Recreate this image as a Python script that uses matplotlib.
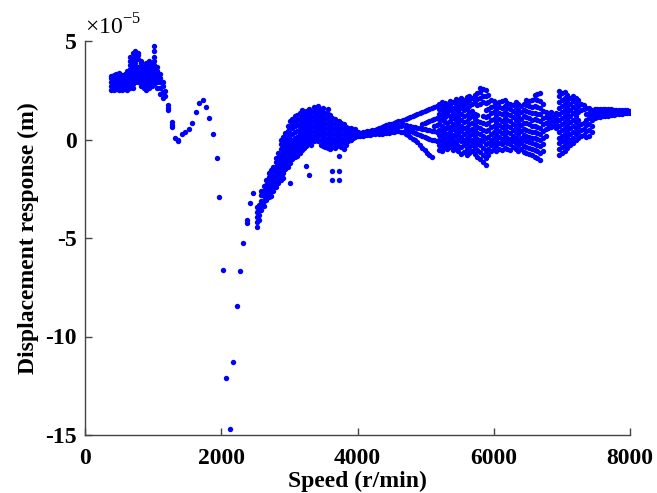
import matplotlib
matplotlib.use("Agg")
import matplotlib.pyplot as plt

# Speed (r/min) and the displacement responses at each speed (units of 1e-5 m)
speeds = [
    380, 420, 460, 500, 540, 580, 620, 660, 700, 740, 780, 820, 860, 900, 940, 980,
    1020, 1060, 1100, 1140, 1180, 1225, 1278, 1320, 1370, 1420, 1470, 1527, 1575,
    1625, 1673, 1728, 1771, 1825, 1875, 1933, 1972, 2026, 2075, 2124, 2172, 2226,
    2275, 2324, 2373, 2422, 2471,
    2520, 2555, 2590, 2625, 2660, 2695, 2730, 2765, 2800, 2835, 2870, 2905, 2940,
    2975, 3010, 3045, 3080, 3115, 3150, 3185, 3220, 3250, 3285, 3320, 3355, 3390,
    3425, 3460, 3495, 3530, 3565, 3600, 3630, 3665, 3700, 3725, 3760, 3795, 3830,
    3865, 3900, 3935, 3970, 4005,
    4040, 4075, 4110, 4145, 4180, 4215, 4250, 4285, 4320, 4355, 4390, 4425, 4460,
    4495, 4530, 4565, 4600, 4635, 4670, 4705, 4740, 4775, 4810, 4845, 4880, 4915,
    4950, 4985, 5020, 5055, 5090, 5125, 5160,
    5200, 5240, 5280, 5320, 5360, 5400, 5440, 5480, 5520, 5560, 5600, 5640, 5680,
    5720, 5760, 5800, 5840, 5880, 5920, 5960, 6000, 6040, 6080, 6120, 6160, 6200,
    6240, 6280, 6320, 6360, 6400, 6440, 6480, 6520, 6560, 6600, 6640, 6680, 6720,
    6760, 6800, 6840, 6880, 6920,
    6960, 7000, 7040, 7080, 7120, 7160, 7200, 7240, 7280, 7320, 7360, 7400, 7440,
    7480, 7520, 7560, 7600, 7640, 7680, 7720, 7760, 7800, 7840, 7880, 7920, 7960, 8000,
]

responses = [
    [2.5, 2.7, 2.9, 3.1, 3.2],
    [2.5, 2.65, 2.85, 3.05, 3.25],
    [2.55, 2.75, 2.95, 3.15, 3.3],
    [2.5, 2.7, 2.9, 3.1, 3.3, 3.4],
    [2.5, 2.7, 2.85, 3.05, 3.25],
    [2.55, 2.75, 2.95, 3.15, 3.35],
    [2.5, 2.7, 2.9, 3.1, 3.3, 3.5],
    [2.6, 2.8, 3.0, 3.2, 3.4, 3.6, 3.8, 4.0, 4.2],
    [2.6, 2.8, 3.0, 3.25, 3.45, 3.7, 3.9, 4.1, 4.4],
    [2.9, 3.1, 3.3, 3.5, 3.7, 3.9, 4.1, 4.3, 4.5],
    [2.9, 3.1, 3.3, 3.5, 3.7, 4.1, 4.3, 4.4],
    [2.7, 2.9, 3.1, 3.3, 3.5, 3.7, 3.9, 4.0],
    [2.6, 2.8, 3.0, 3.2, 3.4, 3.6, 3.8],
    [2.5, 2.7, 2.9, 3.1, 3.3, 3.5, 3.7, 3.9],
    [2.6, 2.8, 3.0, 3.2, 3.4, 3.6, 3.8, 4.0],
    [2.7, 2.9, 3.1, 3.3, 3.5, 3.7, 3.9],
    [2.8, 3.0, 3.2, 3.4, 3.6, 3.8, 4.0, 4.2, 4.5, 4.75],
    [2.6, 2.9, 3.1, 3.3, 3.5, 3.7],
    [2.3, 2.6, 2.9, 3.1, 3.3],
    [2.1, 2.4, 2.7, 2.9],
    [2.2, 2.45],
    [1.75, 1.6, 1.5],
    [0.9, 0.75, 0.62],
    [0.06],
    [-0.06, 0.0],
    [0.28],
    [0.37],
    [0.53],
    [0.82],
    [1.38],
    [1.87],
    [2.0],
    [1.63],
    [1.1],
    [0.28],
    [-0.92],
    [-2.9],
    [-6.6],
    [-12.1],
    [-14.7],
    [-11.3],
    [-8.45],
    [-6.7],
    [-5.27],
    [-4.09, -4.25],
    [-3.24],
    [-2.73],
    # rising branch
    [-4.45, -4.2, -3.95, -3.7, -3.45],
    [-4.1, -3.85, -3.6, -3.3],
    [-3.6, -3.35, -3.1, -2.8, -2.6],
    [-3.4, -3.1, -2.85, -2.6, -2.35],
    [-3.05, -2.8, -2.55, -2.3, -2.05],
    [-2.9, -2.65, -2.4, -2.15, -1.9, -1.7],
    [-2.85, -2.6, -2.35, -2.1, -1.85, -1.55],
    [-2.6, -2.35, -2.1, -1.85, -1.6, -1.4],
    [-2.4, -2.15, -1.9, -1.65, -1.4, -1.15, -0.95],
    [-2.2, -1.95, -1.7, -1.45, -1.2, -0.95, -0.7],
    [-2.05, -1.8, -1.55, -1.3, -1.05, -0.8, -0.5, -0.25, 0.0],
    [-1.95, -1.7, -1.45, -1.2, -0.95, -0.65, -0.4, -0.15, 0.15],
    [-1.5, -1.25, -1.0, -0.75, -0.5, -0.25, 0.05, 0.35],
    [-1.4, -1.1, -0.85, -0.6, -0.35, -0.1, 0.15, 0.45, 0.7],
    [-2.2, -1.2, -0.95, -0.7, -0.45, -0.2, 0.05, 0.35, 0.65, 0.95],
    [-1.0, -0.75, -0.5, -0.25, 0.0, 0.3, 0.6, 0.85, 1.05],
    [-0.9, -0.65, -0.4, -0.15, 0.1, 0.4, 0.7, 0.95, 1.2],
    [-0.85, -0.6, -0.35, -0.1, 0.15, 0.45, 0.75, 1.0, 1.25],
    [-0.7, -0.45, -0.2, 0.05, 0.3, 0.55, 0.8, 1.05, 1.35],
    [-0.55, -0.3, -0.05, 0.2, 0.45, 0.7, 0.95, 1.2, 1.5],
    [-0.45, -0.2, 0.05, 0.3, 0.55, 0.8, 1.05, 1.3],
    [-1.35, -0.35, -0.1, 0.15, 0.4, 0.65, 0.9, 1.15, 1.45],
    [-1.8, -0.2, 0.05, 0.3, 0.55, 0.8, 1.05, 1.3, 1.55],
    [-0.3, -0.05, 0.2, 0.45, 0.7, 0.95, 1.2, 1.45],
    [-0.1, 0.15, 0.4, 0.65, 0.9, 1.15, 1.4, 1.65],
    [0.0, 0.25, 0.5, 0.75, 1.0, 1.25, 1.5],
    [-0.1, 0.2, 0.45, 0.7, 0.95, 1.2, 1.45, 1.7],
    [-0.3, 0.0, 0.3, 0.55, 0.8, 1.05, 1.3, 1.55],
    [-0.35, -0.1, 0.15, 0.4, 0.65, 0.9, 1.15, 1.4, 1.6],
    [-0.4, -0.15, 0.1, 0.35, 0.6, 0.85, 1.1, 1.35],
    [-0.45, -0.2, 0.05, 0.3, 0.55, 0.8, 1.05, 1.3, 1.55],
    [-0.5, -0.25, 0.0, 0.25, 0.5, 0.75, 1.0, 1.25],
    [-2.05, -1.6, -0.4, -0.15, 0.1, 0.35, 0.6, 0.85, 1.1],
    [-0.45, -0.2, 0.05, 0.3, 0.55, 0.8, 1.05],
    [-0.35, -0.1, 0.15, 0.4, 0.65, 0.9],
    [-2.05, -1.6, -0.85, -0.3, -0.05, 0.2, 0.45, 0.7, 0.95],
    [-0.4, -0.15, 0.1, 0.35, 0.6, 0.85],
    [-0.5, -0.2, 0.05, 0.3, 0.55, 0.8],
    [-0.3, -0.05, 0.2, 0.45, 0.65],
    [-0.1, 0.15, 0.4, 0.6],
    [0.0, 0.2, 0.4, 0.6],
    [0.1, 0.3, 0.5],
    [0.15, 0.35, 0.55],
    [0.2, 0.4],
    # narrow band
    [0.2, 0.35],
    [0.2, 0.38],
    [0.22, 0.4],
    [0.25, 0.42],
    [0.25, 0.45],
    [0.3, 0.5],
    [0.3, 0.5],
    [0.35, 0.55],
    [0.3, 0.45, 0.6],
    [0.3, 0.5, 0.65],
    [0.35, 0.55, 0.7],
    [0.35, 0.55, 0.75],
    [0.35, 0.6, 0.8],
    [0.4, 0.6, 0.8],
    [0.4, 0.65, 0.85],
    [0.45, 0.65, 0.9],
    [0.45, 0.7, 0.95],
    [0.4, 0.7, 0.95],
    [0.4, 0.75, 1.0],
    [0.3, 0.55, 0.75, 1.05],
    [0.25, 0.5, 0.7, 1.1],
    [0.15, 0.45, 0.7, 1.15],
    [0.05, 0.4, 0.65, 1.2],
    [-0.05, 0.35, 0.65, 1.25],
    [-0.15, 0.3, 0.6, 1.3],
    [-0.3, 0.25, 0.6, 1.35],
    [-0.45, 0.2, 0.55, 0.8, 1.4],
    [-0.55, 0.15, 0.55, 0.85, 1.45],
    [-0.7, 0.1, 0.5, 0.9, 1.5],
    [-0.8, 0.05, 0.5, 0.95, 1.55],
    [-0.9, 0.0, 0.45, 1.0, 1.6],
    [-0.05, 0.45, 0.7, 1.05, 1.65],
    [-0.1, 0.4, 0.75, 1.1, 1.7],
    # main cloud
    [-0.55, -0.3, 0.0, 0.25, 0.5, 0.8, 1.05, 1.3, 1.55, 1.8],
    [-0.6, -0.35, -0.1, 0.2, 0.45, 0.7, 1.0, 1.25, 1.5, 1.75, 1.9],
    [-0.45, -0.2, 0.1, 0.35, 0.6, 0.9, 1.15, 1.4, 1.65, 1.85],
    [-0.5, -0.25, 0.05, 0.3, 0.6, 0.85, 1.35, 1.6, 1.8],
    [-0.4, -0.15, 0.15, 0.4, 0.65, 0.95, 1.2, 1.5, 1.75, 1.95],
    [-0.55, -0.3, 0.0, 0.25, 0.55, 0.8, 1.1, 1.35, 1.6, 1.9],
    [-0.45, -0.2, 0.2, 0.45, 0.75, 1.0, 1.25, 1.55, 1.8, 2.05],
    [-0.6, -0.35, -0.05, 0.3, 0.55, 0.85, 1.15, 1.45, 1.7, 2.0],
    [-0.75, -0.4, -0.1, 0.15, 0.45, 0.7, 1.0, 1.3, 1.6, 1.85, 2.1],
    [-0.65, -0.3, 0.0, 0.3, 0.6, 0.9, 1.2, 1.5, 1.75, 2.0],
    [-0.8, -0.5, -0.2, 0.1, 0.4, 0.65, 0.95, 1.25, 1.55, 1.9, 2.15],
    [-0.7, -0.4, -0.1, 0.2, 0.5, 0.8, 1.1, 1.4, 1.7, 2.0, 2.2],
    [-0.6, -0.3, 0.0, 0.3, 0.55, 0.85, 1.2, 1.45, 1.8, 2.1],
    [-0.75, -0.45, -0.15, 0.15, 0.45, 0.75, 1.05, 1.3, 1.95, 2.25],
    [-0.9, -0.55, -0.25, 0.05, 0.35, 0.65, 0.95, 1.25, 1.75, 2.05, 2.35],
    [-1.0, -0.65, -0.3, 0.0, 0.3, 0.6, 0.9, 1.8, 2.1, 2.4, 2.6],
    [-1.15, -0.8, -0.45, -0.1, 0.2, 0.5, 0.85, 1.2, 1.9, 2.2, 2.55],
    [-1.3, -0.95, -0.6, -0.25, 0.1, 0.45, 0.8, 1.15, 1.5, 1.85, 2.2, 2.5],
    [-0.8, -0.5, -0.2, 0.15, 0.5, 0.85, 1.2, 1.55, 1.9, 2.25],
    [-0.6, -0.3, 0.0, 0.3, 0.65, 1.0, 1.35, 1.65, 2.0],
    [-0.5, -0.2, 0.1, 0.4, 0.7, 1.05, 1.4, 1.7, 1.95],
    [-0.6, -0.3, 0.0, 0.3, 0.6, 0.9, 1.25, 1.55, 1.85],
    [-0.5, -0.2, 0.15, 0.45, 0.75, 1.05, 1.35, 1.65, 1.9],
    [-0.55, -0.25, 0.05, 0.35, 0.65, 0.95, 1.3, 1.6, 1.95],
    [-0.45, -0.15, 0.2, 0.5, 0.8, 1.1, 1.4, 1.7, 2.0],
    [-0.5, -0.2, 0.1, 0.4, 0.7, 1.0, 1.3, 1.6, 1.85],
    [-0.55, -0.25, 0.05, 0.35, 0.65, 0.95, 1.25, 1.55, 1.8],
    [-0.4, -0.1, 0.2, 0.5, 0.8, 1.15, 1.45, 1.75],
    [-0.5, -0.2, 0.1, 0.4, 0.7, 1.0, 1.35, 1.65, 1.9],
    [-0.6, -0.3, 0.0, 0.3, 0.6, 0.9, 1.2, 1.5, 1.8],
    [-0.5, -0.2, 0.1, 0.45, 0.75, 1.05, 1.4, 1.7],
    [-0.65, -0.35, -0.05, 0.25, 0.55, 0.85, 1.2, 1.5, 1.8],
    [-0.7, -0.4, -0.1, 0.2, 0.5, 0.85, 1.15, 1.45, 1.75, 2.0],
    [-0.75, -0.45, -0.15, 0.15, 0.45, 0.8, 1.1, 1.4, 1.7, 1.95],
    [-0.8, -0.5, -0.2, 0.1, 0.4, 0.7, 1.0, 1.35, 1.65, 2.0],
    [-0.9, -0.55, -0.25, 0.1, 0.4, 0.7, 1.05, 1.35, 1.7, 2.05, 2.25],
    [-0.95, -0.6, -0.3, 0.05, 0.35, 0.65, 1.0, 1.3, 1.65, 2.0, 2.3],
    [-1.05, -0.7, -0.35, 0.0, 0.3, 0.6, 0.95, 1.3, 1.6, 1.95, 2.35],
    [-0.6, -0.25, 0.1, 0.45, 0.8, 1.1, 1.45, 1.8],
    [0.2, 0.55, 0.85, 1.15, 1.4],
    [0.6, 0.85, 1.1, 1.35],
    [0.65, 0.9, 1.15, 1.4],
    [0.7, 0.95, 1.2],
    [0.6, 0.85, 1.1, 1.35],
    # second cloud
    [-0.8, -0.5, -0.2, 0.1, 0.4, 0.7, 1.0, 1.3, 1.6, 1.9, 2.2, 2.45],
    [-0.7, -0.4, -0.1, 0.2, 0.5, 0.8, 1.1, 1.4, 1.7, 2.0, 2.35],
    [-0.6, -0.3, 0.0, 0.3, 0.6, 0.9, 1.2, 1.5, 1.8, 2.1, 2.4],
    [-0.45, -0.15, 0.15, 0.45, 0.75, 1.05, 1.35, 1.65, 1.95, 2.25],
    [-0.3, 0.0, 0.3, 0.6, 0.9, 1.2, 1.5, 1.8, 2.1],
    [-0.2, 0.1, 0.4, 0.7, 1.0, 1.35, 1.65, 1.95, 2.2],
    [0.0, 0.3, 0.6, 0.9, 1.2, 1.5, 1.85, 2.1],
    [0.1, 0.4, 0.7, 1.0, 1.4, 1.7, 2.0],
    [0.2, 0.5, 0.8, 1.5, 1.8],
    [0.25, 0.55, 0.85, 1.55, 1.75],
    [0.15, 0.45, 0.75, 1.0, 1.3, 1.6],
    [0.2, 0.5, 0.8, 1.1, 1.35, 1.6],
    [0.4, 0.7, 1.0, 1.25, 1.5],
    # tail
    [1.1, 1.25, 1.4, 1.55],
    [1.12, 1.27, 1.42, 1.55],
    [1.15, 1.3, 1.45, 1.55],
    [1.17, 1.3, 1.45, 1.55],
    [1.2, 1.32, 1.45, 1.55],
    [1.2, 1.33, 1.46, 1.55],
    [1.22, 1.35, 1.47, 1.55],
    [1.25, 1.37, 1.48],
    [1.27, 1.38, 1.48],
    [1.28, 1.38, 1.48],
    [1.3, 1.4, 1.48],
    [1.32, 1.4, 1.48],
    [1.33, 1.41, 1.48],
    [1.35, 1.42, 1.47],
]

x_ticks = [0, 2000, 4000, 6000, 8000]
y_ticks = [-15, -10, -5, 0, 5]

xs, ys = [], []
for s, vals in zip(speeds, responses):
    for v in vals:
        xs.append(s)
        ys.append(v)

plt.rcParams["font.family"] = ["Liberation Serif", "DejaVu Serif"]
plt.rcParams["mathtext.fontset"] = "custom"
plt.rcParams["mathtext.rm"] = "Liberation Serif"

fig = plt.figure(figsize=(6.57, 4.93), dpi=100)
ax = fig.add_axes([85 / 657, 58 / 493, 545 / 657, 394 / 493])
ax.scatter(xs, ys, s=15, color="#0000ff", linewidths=0, zorder=3)

ax.set_xlim(0, 8000)
ax.set_ylim(-15, 5)
ax.set_xticks(x_ticks)
ax.set_yticks(y_ticks)
ax.set_xticklabels([str(t) for t in x_ticks], fontsize=17, fontweight="bold")
ax.set_yticklabels([str(t) for t in y_ticks], fontsize=17, fontweight="bold")

for side in ("top", "right"):
    ax.spines[side].set_visible(False)
for side in ("left", "bottom"):
    ax.spines[side].set_color("#444444")
    ax.spines[side].set_linewidth(1.0)
ax.tick_params(direction="in", length=5, width=1, colors="#444444", labelcolor="black")
ax.tick_params(axis="x", pad=9)
ax.tick_params(axis="y", pad=6)

ax.set_xlabel("Speed (r/min)", fontsize=17, fontweight="bold", labelpad=2)
ax.set_ylabel("Displacement response (m)", fontsize=17, fontweight="bold", labelpad=4)
ax.text(0.0, 1.005, "×10$^{-5}$", transform=ax.transAxes, fontsize=17,
        ha="left", va="bottom")

fig.savefig("out.png", dpi=100)
